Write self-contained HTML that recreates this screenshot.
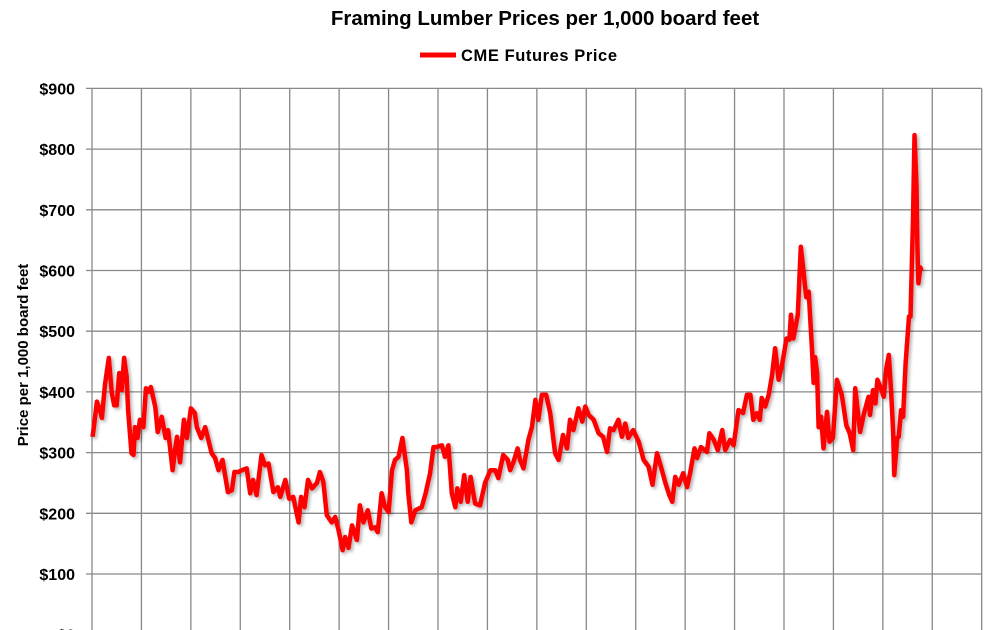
<!DOCTYPE html>
<html><head><meta charset="utf-8"><style>
body{margin:0;background:#fff;}
svg{display:block;font-family:"Liberation Sans",Arial,sans-serif;}
</style></head><body>
<svg id="chart" width="998" height="630" viewBox="0 0 998 630">
<defs><filter id="sh" x="-5%" y="-5%" width="110%" height="110%"><feDropShadow dx="2" dy="2" stdDeviation="1.5" flood-color="#000" flood-opacity="0.3"/></filter></defs>
<text x="545" y="25" text-anchor="middle" font-size="20.5" font-weight="bold" fill="#000">Framing Lumber Prices per 1,000 board feet</text>
<g>
<line x1="420" y1="55" x2="456" y2="55" stroke="#ff0000" stroke-width="5"/>
<text x="461" y="61" font-size="16.5" font-weight="bold" fill="#000" textLength="156">CME Futures Price</text>
</g>
<text transform="translate(28,355) rotate(-90)" text-anchor="middle" font-size="15" font-weight="bold" fill="#000">Price per 1,000 board feet</text>
<g id="grid"></g><g id="yt"></g><g id="series"></g>
</svg>
<script>
const yTicks=[0,100,200,300,400,500,600,700,800,900];
const yTickLabels=["$0","$100","$200","$300","$400","$500","$600","$700","$800","$900"];
const xGridYears=[0,1,2,3,4,5,6,7,8,9,10,11,12,13,14,15,16,17,18];
const years=[0.01,0.03,0.10,0.16,0.20,0.26,0.34,0.40,0.45,0.50,0.55,0.60,0.65,0.70,0.73,0.80,0.84,0.87,0.92,0.97,1.04,1.09,1.14,1.19,1.28,1.33,1.41,1.49,1.54,1.63,1.68,1.72,1.78,1.86,1.92,2.00,2.08,2.12,2.21,2.29,2.42,2.49,2.56,2.64,2.75,2.83,2.88,2.96,3.03,3.13,3.20,3.26,3.33,3.43,3.50,3.57,3.67,3.76,3.81,3.91,3.99,4.07,4.18,4.23,4.30,4.37,4.45,4.55,4.61,4.68,4.75,4.85,4.92,4.99,5.07,5.12,5.19,5.26,5.36,5.42,5.49,5.58,5.65,5.73,5.78,5.86,5.93,6.00,6.07,6.13,6.20,6.28,6.37,6.40,6.46,6.54,6.67,6.75,6.84,6.91,6.96,7.08,7.14,7.21,7.28,7.35,7.39,7.46,7.53,7.60,7.66,7.75,7.85,7.95,8.06,8.16,8.22,8.32,8.41,8.46,8.53,8.61,8.66,8.73,8.83,8.90,8.97,9.03,9.10,9.19,9.27,9.37,9.44,9.53,9.61,9.67,9.74,9.84,9.92,9.98,10.05,10.15,10.25,10.34,10.42,10.48,10.55,10.65,10.72,10.79,10.85,10.95,11.06,11.16,11.26,11.34,11.43,11.51,11.60,11.68,11.74,11.80,11.87,11.96,12.04,12.10,12.19,12.24,12.32,12.44,12.49,12.58,12.66,12.75,12.81,12.91,12.98,13.08,13.17,13.25,13.32,13.38,13.45,13.51,13.55,13.62,13.69,13.76,13.82,13.89,13.96,14.05,14.11,14.14,14.19,14.28,14.34,14.39,14.45,14.50,14.57,14.60,14.63,14.67,14.70,14.75,14.80,14.87,14.92,14.99,15.07,15.17,15.26,15.33,15.40,15.44,15.54,15.61,15.71,15.74,15.80,15.85,15.89,15.95,16.02,16.07,16.12,16.17,16.21,16.23,16.29,16.32,16.37,16.41,16.46,16.53,16.56,16.61,16.64,16.68,16.70,16.72,16.76,16.78];
const prices=[326,337,384,370,357,411,456,398,378,378,431,403,456,425,370,299,296,342,324,354,342,406,400,408,375,334,359,324,337,271,304,326,284,354,324,373,365,342,324,342,299,291,271,288,235,238,268,268,271,274,233,255,230,296,279,282,235,243,227,255,224,227,185,227,210,255,241,250,268,252,197,185,194,172,139,161,143,180,156,213,185,205,175,177,169,233,210,202,271,288,293,324,271,233,185,205,210,233,266,309,309,312,293,312,233,210,241,219,263,219,260,216,213,250,271,271,258,296,288,271,285,307,288,274,321,342,387,354,395,395,365,299,288,329,307,354,337,373,351,376,362,354,332,326,301,340,337,354,326,348,324,337,318,288,277,247,299,277,250,230,219,260,247,266,243,266,307,291,309,301,332,321,304,337,304,321,312,370,365,395,395,354,365,354,390,376,395,428,472,420,444,488,486,527,488,527,639,602,556,565,464,415,457,431,342,359,307,367,318,324,420,395,345,332,304,406,334,362,392,362,403,381,420,408,392,439,461,398,332,263,324,326,370,359,447,524,524,684,823,738,639,579,605,600];
const X0=92,X1=981.7,XMAX=18,Y0=634.7,YPER=0.607;
const xs=v=>X0+(X1-X0)*v/XMAX;
const ys=v=>Y0-v*YPER;
const NS="http://www.w3.org/2000/svg";
function mk(t,a,p){const e=document.createElementNS(NS,t);for(const k in a)e.setAttribute(k,a[k]);p.appendChild(e);return e;}
const grid=document.getElementById('grid'),yt=document.getElementById('yt'),ser=document.getElementById('series');
xGridYears.forEach(v=>{
  const l=mk('line',{x1:xs(v),x2:xs(v),y1:ys(900),y2:640,stroke:'#888','stroke-width':1.3},grid);
  
  
});
yTicks.forEach((v,i)=>{
  const l=mk('line',{x1:86,x2:X1,y1:ys(v),y2:ys(v),stroke:'#888','stroke-width':1.3},grid);
  
  
  const t=mk('text',{x:75,y:ys(v)+6,'text-anchor':'end','font-size':16,'font-weight':'bold',fill:'#000'},yt);
  t.textContent=yTickLabels[i];
  
  
});
const d=years.map((y,i)=>(i?'L':'M')+xs(y).toFixed(1)+' '+ys(prices[i]).toFixed(1)).join(' ');
const p=mk('path',{d:d,fill:'none',stroke:'#ff0000','stroke-width':4.5,'stroke-linejoin':'round',filter:'url(#sh)'},ser);


</script>
</body></html>
